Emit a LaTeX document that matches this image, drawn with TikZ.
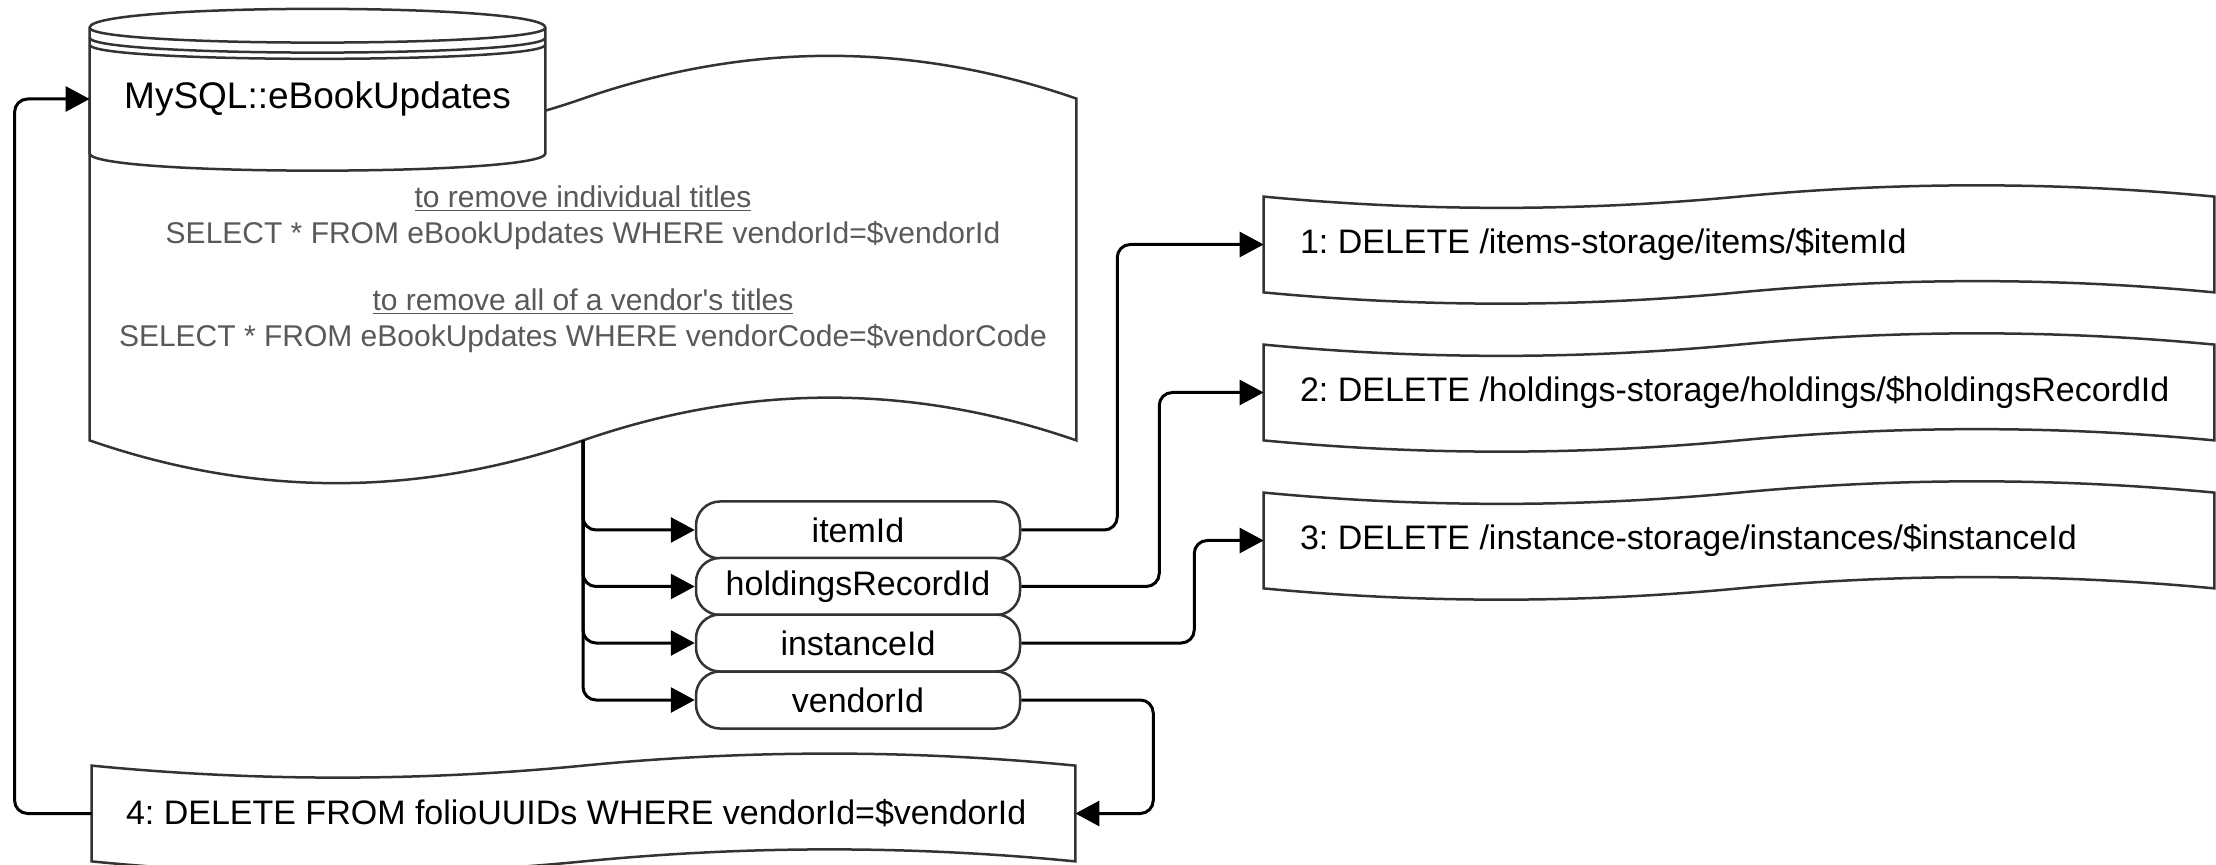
\documentclass[tikz,border=0pt]{standalone}
\usepackage{fontspec}
\setmainfont{Liberation Sans}
\usetikzlibrary{arrows.meta,calc,backgrounds}
\definecolor{doctext}{HTML}{595959}
\definecolor{shapeline}{HTML}{333333}
\frenchspacing
\tikzset{
  shp/.style={draw=shapeline, line width=1.25pt, fill=white},
  conn/.style={draw=black, line width=1.5pt, rounded corners=6.5pt, -{Triangle[length=12pt,width=12.5pt]}},
  pill/.style={draw=shapeline, line width=1.25pt, rounded corners=12pt, minimum width=162pt, minimum height=28.5pt, inner sep=0pt, fill=white, font=\fontsize{17pt}{20pt}\selectfont},
  tapebox/.style={inner xsep=18pt, inner ysep=0pt, minimum height=47.5pt, font=\fontsize{17pt}{20pt}\selectfont},
}
\newcommand\tapeoutline[3]{%
  \draw[shp] (#1.north west) .. controls +(#2/6,#3) and +(-#2/6,#3) .. (#1.north)
    .. controls +(#2/6,-#3) and +(-#2/6,-#3) .. (#1.north east) -- (#1.south east)
    .. controls +(-#2/6,-#3) and +(#2/6,-#3) .. (#1.south)
    .. controls +(-#2/6,#3) and +(#2/6,#3) .. (#1.south west) -- cycle;}
\begin{document}
\begin{tikzpicture}[x=0.5pt,y=-0.5pt]
\useasboundingbox (0,0) rectangle (2216,865);

% document (tape) with queries
\node[inner sep=0pt, minimum width=493pt, minimum height=170.5pt, align=center, text=doctext,
      font=\fontsize{15pt}{18pt}\selectfont] (doc) at (583,269.5)
  {\underline{to remove individual titles}\\
   SELECT * FROM eBookUpdates WHERE vendorId=\$vendorId\\[15.5pt]
   \underline{to remove all of a vendor\textquotesingle s titles}\\
   SELECT * FROM eBookUpdates WHERE vendorCode=\$vendorCode};

% database
\node[inner sep=0pt, minimum width=227.5pt, minimum height=71pt,
      font=\fontsize{18.5pt}{22pt}\selectfont] (db) at (317.5,99) {MySQL::eBookUpdates};

% pills
\node[pill] (p1) at (858,530) {itemId};
\node[pill] (p2) at (858,586.5) {holdingsRecordId};
\node[pill] (p3) at (858,643) {instanceId};
\node[pill] (p4) at (858,700) {vendorId};

% request boxes
\node[tapebox] (b1) at (1739,244.5) {\makebox[439pt][l]{1: DELETE /items-storage/items/\$itemId}};
\node[tapebox] (b2) at (1739,392.5) {\makebox[439pt][l]{2: DELETE /holdings-storage/holdings/\$holdingsRecordId}};
\node[tapebox] (b3) at (1739,540.5) {\makebox[439pt][l]{3: DELETE /instance-storage/instances/\$instanceId}};
\node[tapebox, inner xsep=17pt] (b4) at (583.5,813.5) {\makebox[457.5pt][l]{4: DELETE FROM folioUUIDs WHERE vendorId=\$vendorId}};

\begin{pgfonlayer}{background}
  \tapeoutline{doc}{986}{57}
  \tapeoutline{b1}{950}{15}
  \tapeoutline{b2}{950}{15}
  \tapeoutline{b3}{950}{15}
  \tapeoutline{b4}{983}{16}
  % cylinder
  \draw[shp] (db.north west) .. controls +(0,-25) and +(0,-25) .. (db.north east)
     -- ($(db.south east)+(0,-17)$) .. controls +(0,23) and +(0,23) .. ($(db.south west)+(0,-17)$) -- cycle;
  \draw[shp, fill=none] (db.north west) .. controls +(0,20) and +(0,20) .. (db.north east);
  \draw[shp, fill=none] ($(db.north west)+(0,10)$) .. controls +(0,20) and +(0,20) .. ($(db.north east)+(0,10)$);
  \draw[shp, fill=none] ($(db.north west)+(0,17)$) .. controls +(0,19) and +(0,19) .. ($(db.north east)+(0,17)$);
\end{pgfonlayer}

% connectors
\draw[conn] (doc.south) |- (p1.west);
\draw[conn] (doc.south) |- (p2.west);
\draw[conn] (doc.south) |- (p3.west);
\draw[conn] (doc.south) |- (p4.west);
\draw[conn] (p1.east) -- ++(96,0) |- (b1.west);
\draw[conn] (p2.east) -- ++(138,0) |- (b2.west);
\draw[conn] (p3.east) -- ++(173,0) |- (b3.west);
\draw[conn] (p4.east) -- ++(132,0) |- (b4.east);
\draw[conn] (b4.west) -- ++(-77,0) |- (db.west);
\end{tikzpicture}
\end{document}
